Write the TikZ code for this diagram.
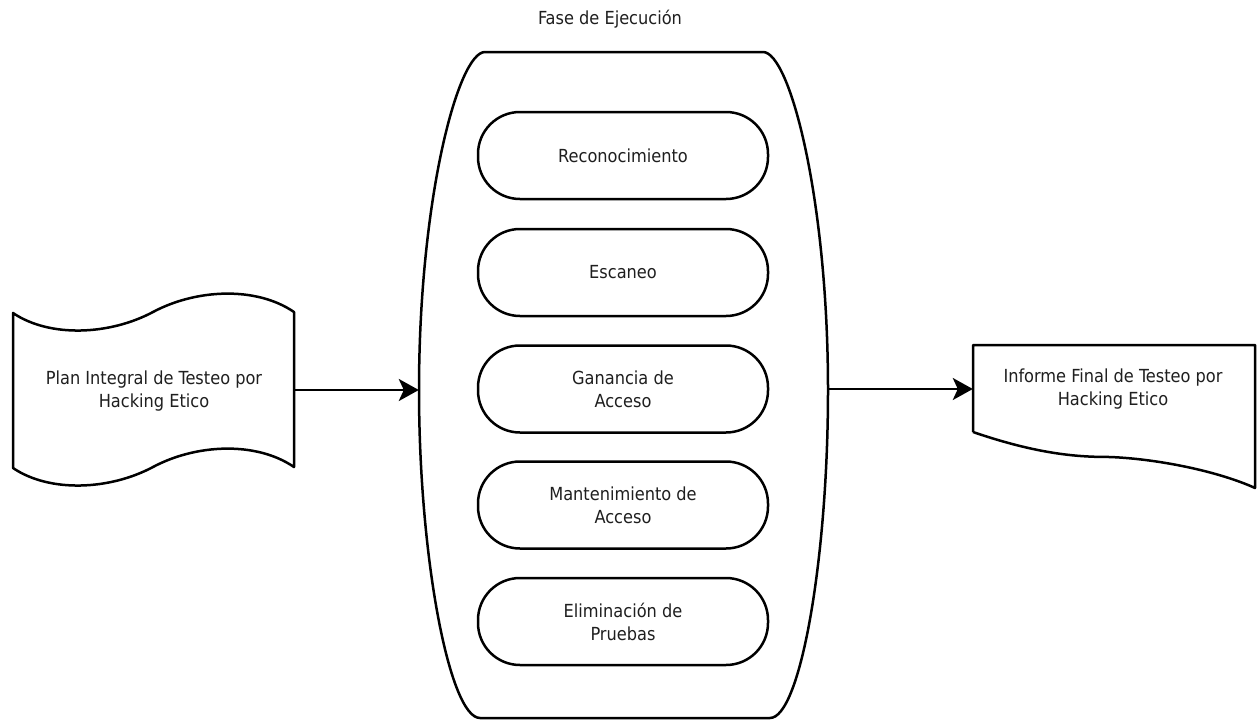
\documentclass[tikz,border=0pt]{standalone}
\usepackage{fontspec}
\setmainfont{DejaVu Sans Condensed}
\usetikzlibrary{arrows.meta}

\tikzset{
  outline/.style={draw=black, line width=2.5pt, line join=round},
  label/.style={font=\fontsize{18}{23}\selectfont, text=black!88, align=center, inner sep=0pt},
  stepbox/.style={outline, rounded corners=42pt, minimum width=290pt, minimum height=87pt,
                  font=\fontsize{18}{23}\selectfont, text=black!88, align=center, inner sep=0pt},
  holder/.style={draw=none, inner sep=0pt},
  flow/.style={line width=2.5pt, -{Stealth[length=20pt, width=22pt, inset=5pt]}}
}

\begin{document}
\begin{tikzpicture}[x=1pt, y=-1pt]
  \useasboundingbox (0,0) rectangle (1258,720);
  \fill[white] (0,0) rectangle (1258,720);

  % title of the execution phase
  \node[label] (title) at (610,19) {Fase de Ejecución};

  % barrel-shaped container of the execution phase
  \node[holder, minimum width=409pt, minimum height=666pt] (fase) at (623.5,385) {};
  \draw[outline] (485,52) -- (763,52)
    .. controls (790,52) and (828,200) .. (828,390)
    .. controls (828,560) and (800,718) .. (770,718)
    -- (480,718)
    .. controls (450,718) and (419,560) .. (419,390)
    .. controls (419,200) and (458,52) .. (485,52) -- cycle;

  % the five stages
  \node[stepbox] (s1) at (623,155.5) {Reconocimiento};
  \node[stepbox] (s2) at (623,272.5) {Escaneo};
  \node[stepbox] (s3) at (623,389) {Ganancia de\\Acceso};
  \node[stepbox] (s4) at (623,505) {Mantenimiento de\\Acceso};
  \node[stepbox] (s5) at (623,621.5) {Eliminación de\\Pruebas};

  % input: punched-tape shaped plan
  \node[holder, minimum width=281pt, minimum height=155pt] (plan) at (153.5,390) {};
  \draw[outline] (13,313)
    .. controls (50,338) and (110,335) .. (153,312)
    .. controls (196,289) and (256,286) .. (294,312)
    -- (294,467)
    .. controls (256,441) and (196,444) .. (153,467)
    .. controls (110,490) and (50,493) .. (13,468) -- cycle;
  \node[label] (plantext) at (154,391) {Plan Integral de Testeo por\\Hacking Etico};

  % output: document shaped final report
  \node[holder, minimum width=282pt, minimum height=88pt] (report) at (1114,389) {};
  \draw[outline] (973,432) -- (973,345) -- (1255,345) -- (1255,488)
    .. controls (1220,472) and (1160,459) .. (1110,457)
    .. controls (1080,457) and (1040,455) .. (973,432);
  \node[label] (reporttext) at (1113,389) {Informe Final de Testeo por\\Hacking Etico};

  % connectors
  \draw[flow] (plan.east) -- (plan.east -| fase.west);
  \draw[flow] (fase.east |- report.west) -- (report.west);
\end{tikzpicture}
\end{document}
